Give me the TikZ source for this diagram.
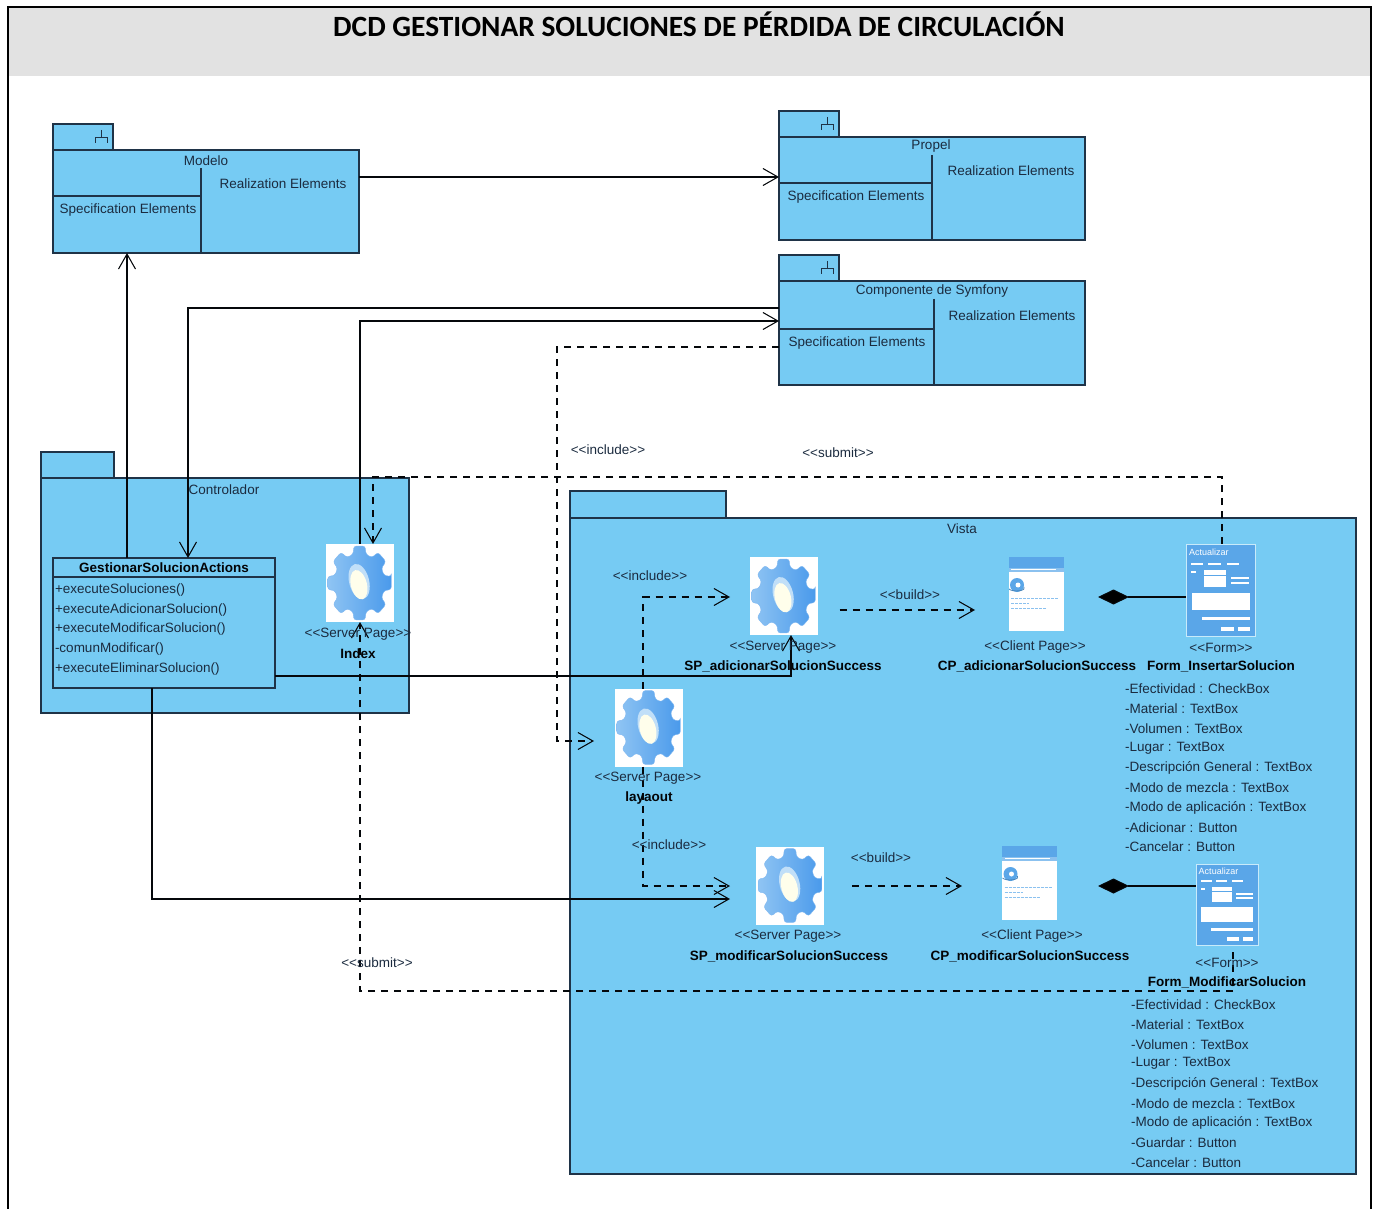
\documentclass[tikz,border=0pt]{standalone}
\usepackage{fontspec}
\setmainfont{Liberation Sans}
\newfontfamily\titlefont{Carlito}
\usetikzlibrary{arrows.meta,shapes.geometric,calc}
\definecolor{pkgblue}{HTML}{76CBF3}
\definecolor{ink}{HTML}{1F3347}
\definecolor{txt}{HTML}{1B2B3F}
\definecolor{gearA}{HTML}{8FC4F3}
\definecolor{gearB}{HTML}{4A9AEB}
\definecolor{titlegray}{HTML}{E2E2E2}
\definecolor{iconblue}{HTML}{5AA6E8}
\tikzset{
  every node/.style={inner sep=0pt,outer sep=0pt},
  lbl/.style={font=\fontsize{13.5}{15}\selectfont,text=txt,anchor=center,yshift=-.5pt},
  lblw/.style={lbl,anchor=west},
  bold/.style={font=\fontsize{13.5}{15}\selectfont\bfseries,text=black!90!txt,anchor=center,yshift=-.5pt},
  pkg/.style={draw=ink,fill=pkgblue,line width=1.05pt,anchor=north west},
  rule/.style={draw=ink,line width=1.05pt},
  conn/.style={draw=black!85!ink,line width=1.05pt},
  dep/.style={conn,dash pattern=on 7pt off 6pt},
  opn/.style={-{Straight Barb[length=15pt,width=17pt,line width=1.05pt]}},
  comp/.style={conn,{Diamond[length=31pt,width=15pt,fill=black]}-},
  gearbox/.style={fill=white,minimum width=68pt,minimum height=78pt,anchor=center}
}
\newcommand\stereo[1]{<\kern0pt<#1>\kern0pt>}
% body of a component package: name, left, top of tab, divider offset, horizontal line y, body height
\newcommand\comppkg[6]{%
  \node[pkg,minimum width=60pt,minimum height=26pt] (#1tab) at (#2,#3) {};
  \node[pkg,minimum width=306pt,minimum height=#6pt] (#1) at (#2,#3+26) {};
  \draw[rule] (#2+#4,#3+44) -- (#2+#4,#3+26+#6);
  \draw[rule] (#2,#5) -- (#2+#4,#5);
  \draw[draw=ink,line width=.9pt] (#2+48,#3+6) -- (#2+48,#3+13) (#2+42,#3+19) -- (#2+42,#3+13) -- (#2+54,#3+13) -- (#2+54,#3+19);
}
\newcommand\gearnode[3]{%
  \node[gearbox] (#1) at (#2,#3) {};
  \begin{scope}[shift={(#1.center)},xscale=.86]
    \path[draw=gearB!70!white,line width=.4pt,left color=gearA,right color=gearB,rounded corners=2.5pt]
      (-10:37.5)
      \foreach \a in {0,45,...,315} { -- ({\a-10}:37.5) -- ({\a+10}:37.5) -- ({\a+15}:29.5) -- ({\a+30}:29.5) } -- cycle;
  \end{scope}
  \begin{scope}[shift={(#1.center)}]
    \fill[gearA!55!white,rotate=14] (0,-1.5) ellipse (10pt and 18pt);
    \fill[white!92!yellow,rotate=14] (-1,1.5) ellipse (8pt and 15pt);
  \end{scope}
}
\newcommand\pagenode[3]{%
  \node[fill=white,minimum width=55pt,minimum height=74pt] (#1) at (#2,#3) {};
  \begin{scope}[shift={(#1.center)}]
    \fill[iconblue] (-27.5,-37) rectangle (27.5,-26);
    \fill[iconblue!70!white] (-27.5,-26) rectangle (27.5,-22);
    \fill[white] (-25,-25) rectangle (20,-24);
    \fill[iconblue] (-19,-9) circle (7pt);
    \fill[white] (-18,-9) circle (2.5pt);
    \draw[iconblue!80!black,line width=.8pt] (-27,-5) arc[start angle=200,end angle=380,x radius=8pt,y radius=3pt];
    \foreach \yy/\ww in {4/48,9/18,14/36}
      \draw[iconblue!70!white,line width=1pt,dash pattern=on 3pt off 1pt] (-25,\yy) -- (-25+\ww,\yy);
  \end{scope}
}
% name, center x, center y, width, height
\newcommand\formnode[5]{%
  \node[draw=white!60!pkgblue,line width=.9pt,fill=iconblue,minimum width=#4pt,minimum height=#5pt] (#1) at (#2,#3) {};
  \begin{scope}[shift={(#1.center)},xscale=#4/68,yscale=#5/92]
    \node[anchor=west,font=\fontsize{9}{9}\selectfont,text=white] (#1cap) at (-31,-38) {Actualizar};
    \foreach \xx in {-29,-12,6} \fill[white] (\xx,-27.5) rectangle (\xx+12,-25.5);
    \fill[white] (-29,-19) rectangle (-24,-17);
    \fill[white] (-16,-20) rectangle (5,-3);
    \fill[iconblue] (-16,-15) rectangle (5,-14);
    \fill[white] (10,-13) rectangle (28,-11);
    \fill[white] (10,-8) rectangle (28,-6);
    \fill[white] (-28,3) rectangle (29,20);
    \fill[white] (-18,27) rectangle (29,30);
    \fill[white] (0,37) rectangle (13,41);
    \fill[white] (17,37) rectangle (29,41);
  \end{scope}
}
\begin{document}
\begin{tikzpicture}[x=1pt,y=-1pt,>={Straight Barb[length=15pt,width=17pt]}]
\useasboundingbox (0,0) rectangle (1377,1209);
% frame and title
\node[fill=titlegray,minimum width=1363pt,minimum height=69pt,anchor=north west] (titlebar) at (8,7) {};
\draw[black,line width=1.4pt] (8,1209) -- (8,7) -- (1371,7) -- (1371,1209);
\node[font=\titlefont\fontsize{29.4}{32}\selectfont\bfseries,text=black] (title) at (699,24) {DCD GESTIONAR SOLUCIONES DE PÉRDIDA DE CIRCULACIÓN};
% component packages
\comppkg{modelo}{53}{124}{148}{196}{103}
\comppkg{propel}{779}{111}{153}{183}{103}
\comppkg{symfony}{779}{255}{155}{329}{104}
\node[lbl] (modeloN) at (206,160) {Modelo};
\node[lbl] (modeloR) at (283,183) {Realization Elements};
\node[lbl] (modeloS) at (128,210) {Specification Elements};
\node[lbl] (propelN) at (931,146) {Propel};
\node[lbl] (propelR) at (1011,170) {Realization Elements};
\node[lbl] (propelS) at (856,197) {Specification Elements};
\node[lbl] (symfonyN) at (932,291) {Componente de Symfony};
\node[lbl] (symfonyR) at (1012,315) {Realization Elements};
\node[lbl] (symfonyS) at (857,343) {Specification Elements};
% plain packages
\node[pkg,minimum width=73pt,minimum height=26pt] (contTab) at (41,452) {};
\node[pkg,minimum width=368pt,minimum height=235pt] (controlador) at (41,478) {};
\node[lbl] (contN) at (224,489) {Controlador};
\node[pkg,minimum width=156pt,minimum height=27pt] (vistaTab) at (570,491) {};
\node[pkg,minimum width=786pt,minimum height=656pt] (vista) at (570,518) {};
\node[lbl] (vistaN) at (962,528) {Vista};
% class
\node[pkg,minimum width=222pt,minimum height=130pt] (gsa) at (53,558) {};
\draw[rule] (53,577) -- (275,577);
\node[bold] (gsaN) at (164,567) {GestionarSolucionActions};
\node[lblw] (op1) at (55,590) {+executeSoluciones()};
\node[lblw] (op2) at (55,610) {+executeAdicionarSolucion()};
\node[lblw] (op3) at (55,629) {+executeModificarSolucion()};
\node[lblw] (op4) at (55,649) {-comunModificar()};
\node[lblw] (op5) at (55,669) {+executeEliminarSolucion()};
% icons
\gearnode{index}{359.5}{583}
\gearnode{spadd}{783.5}{596}
\gearnode{layout}{648.5}{727.5}
\gearnode{spmod}{790}{885.5}
\pagenode{cpadd}{1036}{594}
\pagenode{cpmod}{1029.5}{883}
\formnode{fins}{1220.5}{590}{69}{92}
\formnode{fmod}{1227}{904.5}{62}{81}
% coordinates for free bends
\coordinate (b1) at (188,308);
\coordinate (b2) at (360,321);
\coordinate (b3) at (557,347);
\coordinate (b4) at (557,741);
\coordinate (b5) at (1222,477);
\coordinate (b6) at (373,477);
\coordinate (b7) at (791,676);
\coordinate (b8) at (152,899);
\coordinate (b9) at (643,597);
\coordinate (b10) at (643,886);
\coordinate (b11) at (1233,991);
\coordinate (b12) at (360,991);
\coordinate (sb) at (1233,952);
\coordinate (ib1) at (730,597);
\coordinate (ib2) at (730,886);
\coordinate (ib3) at (730,899);
% connectors
\draw[conn,opn] (modelo.east |- 0,177) -- (propel.west |- 0,177);
\draw[conn,opn] (gsa.north -| 127,0) -- (modelo.south -| 127,0);
\draw[conn,opn] (symfony.west |- b1) -- (b1) -- (gsa.north -| b1);
\draw[conn,opn] (index.north -| b2) -- (b2) -- (symfony.west |- b2);
\draw[dep,opn] (symfony.west |- b3) -- (b3) -- (b4) -- (594,741);
\draw[dep,opn] (fins.north -| b5) -- (b5) -- (b6) -- (index.north -| b6);
\draw[conn,opn] (gsa.east |- b7) -- (b7) -- (spadd.south -| b7);
\draw[conn,opn] (gsa.south -| b8) -- (b8) -- (ib3);
\draw[dep,opn] (layout.north -| b9) -- (b9) -- (ib1);
\draw[dep,opn] (layout.south -| b10) -- (b10) -- (ib2);
\draw[dep,opn] (spadd.east |- 0,610) ++(22,0) -- (975,610);
\draw[dep,opn] (852,886) -- (962,886);
\draw[comp] (1098,597) -- (fins.west |- 0,597);
\draw[comp] (1098,886) -- (fmod.west |- 0,886);
\draw[dep,opn] (sb) -- (b11) -- (b12) -- (index.south -| b12);
% stereotype labels
\node[lbl] (l1) at (608,449) {\stereo{include}};
\node[lbl] (l2) at (838,452) {\stereo{submit}};
\node[lbl] (l3) at (650,575) {\stereo{include}};
\node[lbl] (l4) at (910,594) {\stereo{build}};
\node[lbl] (l5) at (669,844) {\stereo{include}};
\node[lbl] (l6) at (881,857) {\stereo{build}};
\node[lbl] (l7) at (377,962) {\stereo{submit}};
% icon captions
\node[lbl] (c1) at (358,634) {\stereo{Server Page}};
\node[bold] (c2) at (358,653) {Index};
\node[lbl] (c3) at (783,647) {\stereo{Server Page}};
\node[bold] (c4) at (783,666) {SP\_adicionarSolucionSuccess};
\node[lbl] (c5) at (648,778) {\stereo{Server Page}};
\node[bold] (c6) at (649,798) {layaout};
\node[lbl] (c7) at (788,936) {\stereo{Server Page}};
\node[bold] (c8) at (789,956) {SP\_modificarSolucionSuccess};
\node[lbl] (c9) at (1035,647) {\stereo{Client Page}};
\node[bold] (c10) at (1037,666) {CP\_adicionarSolucionSuccess};
\node[lbl] (c11) at (1032,936) {\stereo{Client Page}};
\node[bold] (c12) at (1030,956) {CP\_modificarSolucionSuccess};
\node[lbl] (c13) at (1221,647) {\stereo{Form}};
\node[bold] (c14) at (1221,666) {Form\_InsertarSolucion};
\node[lbl] (c15) at (1227,962) {\stereo{Form}};
\node[bold] (c16) at (1227,982) {Form\_ModificarSolucion};
% attributes
\node[lblw] (a1) at (1125,688) {-Efectividad : CheckBox};
\node[lblw] (a2) at (1125,708) {-Material : TextBox};
\node[lblw] (a3) at (1125,728) {-Volumen : TextBox};
\node[lblw] (a4) at (1125,748) {-Lugar : TextBox};
\node[lblw] (a5) at (1125,767) {-Descripción General : TextBox};
\node[lblw] (a6) at (1125,787) {-Modo de mezcla : TextBox};
\node[lblw] (a7) at (1125,807) {-Modo de aplicación : TextBox};
\node[lblw] (a8) at (1125,827) {-Adicionar : Button};
\node[lblw] (a9) at (1125,846) {-Cancelar : Button};
\node[lblw] (m1) at (1131,1004) {-Efectividad : CheckBox};
\node[lblw] (m2) at (1131,1024) {-Material : TextBox};
\node[lblw] (m3) at (1131,1044) {-Volumen : TextBox};
\node[lblw] (m4) at (1131,1063) {-Lugar : TextBox};
\node[lblw] (m5) at (1131,1083) {-Descripción General : TextBox};
\node[lblw] (m6) at (1131,1103) {-Modo de mezcla : TextBox};
\node[lblw] (m7) at (1131,1122) {-Modo de aplicación : TextBox};
\node[lblw] (m8) at (1131,1142) {-Guardar : Button};
\node[lblw] (m9) at (1131,1162) {-Cancelar : Button};
\end{tikzpicture}
\end{document}
